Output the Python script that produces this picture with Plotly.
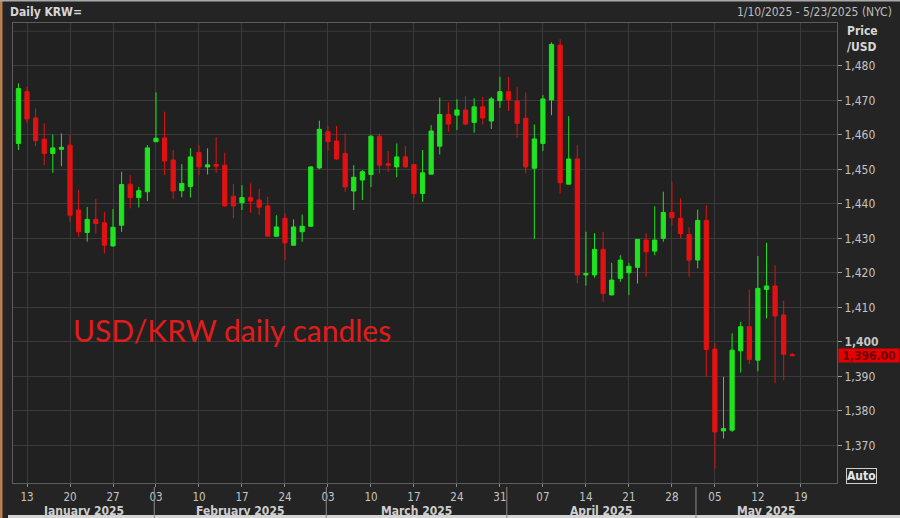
import pandas as pd
import plotly.graph_objects as go

# daily USD/KRW candles, 10 Jan - 16 May 2025 (weekdays)
dates = pd.bdate_range("2025-01-10", "2025-05-16")

opens = [1457.5, 1472.5, 1464.9, 1458.7, 1454.6, 1455.8, 1457.0, 1438.2, 1431.7, 1435.5,
         1434.5, 1427.8, 1433.8, 1445.7, 1441.8, 1443.5, 1458.0, 1459.1, 1452.7, 1443.8,
         1445.0, 1454.9, 1450.7, 1451.4, 1451.2, 1442.2, 1440.3, 1441.8, 1441.1, 1439.4,
         1430.6, 1435.8, 1428.0, 1431.9, 1433.5, 1450.4, 1460.9, 1458.2, 1454.6, 1443.7,
         1446.9, 1448.5, 1459.6, 1451.6, 1450.7, 1453.6, 1451.4, 1443.0, 1448.6, 1456.7,
         1465.9, 1465.7, 1467.2, 1463.6, 1468.1, 1464.0, 1469.9, 1472.5, 1469.8, 1464.8,
         1450.3, 1457.5, 1470.1, 1486.0, 1445.7, 1453.0, 1419.4, 1419.4, 1426.8, 1413.6,
         1418.4, 1420.0, 1421.6, 1429.5, 1426.3, 1430.0, 1437.5, 1435.8, 1431.1, 1423.7,
         1435.2, 1397.9, 1374.2, 1374.4, 1397.4, 1404.4, 1394.7, 1415.2, 1416.2, 1407.8,
         1396.3]
highs = [1474.9, 1473.9, 1467.7, 1463.3, 1460.1, 1460.4, 1459.9, 1444.0, 1439.1, 1441.4,
         1437.7, 1438.5, 1449.3, 1448.3, 1444.9, 1457.0, 1472.3, 1466.7, 1455.6, 1451.5,
         1456.1, 1457.0, 1456.1, 1459.3, 1454.8, 1445.7, 1445.4, 1445.9, 1444.4, 1442.0,
         1436.7, 1437.3, 1435.5, 1436.9, 1450.9, 1464.1, 1462.6, 1462.6, 1460.4, 1451.2,
         1449.8, 1459.9, 1460.4, 1455.3, 1457.5, 1456.7, 1451.5, 1455.6, 1462.8, 1470.8,
         1469.4, 1470.3, 1471.2, 1470.6, 1471.0, 1471.0, 1476.8, 1476.8, 1473.9, 1472.3,
         1463.0, 1471.5, 1486.8, 1487.7, 1465.4, 1457.0, 1431.9, 1431.5, 1431.9, 1422.9,
         1425.1, 1422.9, 1429.8, 1431.5, 1439.3, 1443.5, 1446.4, 1441.6, 1433.3, 1438.3,
         1439.6, 1399.6, 1389.9, 1402.5, 1405.8, 1415.1, 1424.9, 1428.7, 1422.2, 1411.9,
         1396.8]
lows = [1455.6, 1463.3, 1456.7, 1451.2, 1449.0, 1450.9, 1434.8, 1430.4, 1429.0, 1431.4,
        1425.6, 1427.6, 1431.9, 1438.7, 1438.9, 1440.8, 1458.0, 1448.3, 1441.3, 1441.9,
        1441.8, 1448.3, 1448.5, 1449.0, 1439.2, 1435.8, 1438.2, 1437.4, 1436.7, 1430.4,
        1430.4, 1423.7, 1427.8, 1429.0, 1433.3, 1450.0, 1455.3, 1452.8, 1443.5, 1438.2,
        1441.1, 1444.9, 1448.8, 1449.3, 1447.7, 1450.5, 1441.6, 1440.6, 1448.5, 1454.3,
        1460.9, 1461.4, 1462.8, 1460.6, 1463.0, 1461.7, 1467.8, 1466.9, 1459.1, 1448.8,
        1429.8, 1455.3, 1465.7, 1443.0, 1445.6, 1416.9, 1416.3, 1418.6, 1411.6, 1413.5,
        1417.4, 1413.6, 1416.9, 1418.9, 1425.1, 1429.0, 1433.8, 1430.0, 1418.9, 1421.3,
        1389.9, 1363.3, 1372.0, 1373.9, 1391.1, 1393.6, 1391.5, 1406.8, 1388.0, 1388.9,
        1396.0]
closes = [1473.4, 1464.6, 1458.3, 1454.6, 1456.2, 1456.4, 1436.7, 1431.9, 1435.5, 1434.3,
          1428.0, 1433.2, 1445.6, 1441.8, 1443.8, 1456.2, 1459.0, 1452.4, 1443.7, 1445.9,
          1453.6, 1450.7, 1451.3, 1450.9, 1439.4, 1439.4, 1441.8, 1440.8, 1439.0, 1430.6,
          1433.3, 1428.7, 1433.3, 1433.5, 1450.7, 1461.6, 1458.0, 1453.0, 1444.9, 1447.7,
          1449.3, 1459.6, 1451.2, 1451.2, 1453.6, 1450.7, 1443.0, 1449.0, 1461.1, 1465.9,
          1463.1, 1467.2, 1463.1, 1468.1, 1464.9, 1470.4, 1472.5, 1470.1, 1463.3, 1450.7,
          1458.8, 1470.4, 1486.2, 1446.1, 1453.0, 1419.4, 1419.8, 1426.8, 1414.0, 1417.9,
          1423.7, 1421.9, 1429.7, 1426.1, 1429.5, 1437.5, 1436.0, 1431.4, 1423.7, 1435.2,
          1397.8, 1373.9, 1374.9, 1397.6, 1404.4, 1394.9, 1415.5, 1416.2, 1407.5, 1396.4,
          1396.0]

y_ticks = [1370, 1380, 1390, 1400, 1410, 1420, 1430, 1440, 1450, 1460, 1470, 1480]
week_labels = ["13", "20", "27", "03", "10", "17", "24", "03", "10", "17",
               "24", "31", "07", "14", "21", "28", "05", "12", "19"]
months = ["January 2025", "February 2025", "March 2025", "April 2025", "May 2025"]
last_price = 1396.00

GREEN = "#1fe41f"
RED = "#e31212"
TXT = "#c4c4c4"
FONT = "Liberation Sans Narrow, DejaVu Sans Condensed, Liberation Sans, sans-serif"

idx = list(range(len(dates)))
# axis runs to 23 May (the quote window), data stops 16 May
full_days = pd.bdate_range("2025-01-10", "2025-05-23")
week_pos = [i for i, d in enumerate(full_days) if d.weekday() == 0]
month_starts = [i for i in range(1, len(full_days)) if full_days[i].month != full_days[i - 1].month]
x_lo, x_hi = -0.63, len(full_days) - 1 + 0.2

# plot area in pixels: x 13..837, y 23..483
def px(x):
    return (x - 13) / 824.0

def py(y):
    return (483 - y) / 460.0

fig = go.Figure(go.Candlestick(
    x=idx, open=opens, high=highs, low=lows, close=closes,
    increasing=dict(line=dict(color=GREEN, width=1), fillcolor=GREEN),
    decreasing=dict(line=dict(color=RED, width=1), fillcolor=RED),
    whiskerwidth=0, hoverinfo="skip", showlegend=False,
))

fig.update_layout(
    width=900, height=518,
    margin=dict(l=13, r=63, t=23, b=35),
    paper_bgcolor="#242424", plot_bgcolor="#212121",
    font=dict(family=FONT, color=TXT, size=12),
    boxgap=0.3,
    xaxis=dict(
        range=[x_lo, x_hi], rangeslider=dict(visible=False),
        tickvals=week_pos, ticktext=week_labels,
        showgrid=True, gridcolor="#3a3a3a", gridwidth=1,
        ticks="outside", ticklen=3, tickcolor="#8a8a8a",
        tickfont=dict(size=11.5, color=TXT),
        showline=True, linecolor="#5c5c5c", mirror=True, zeroline=False,
    ),
    yaxis=dict(
        side="right", range=[1359.1, 1492.4],
        tickvals=y_ticks,
        ticktext=[("<b>%s</b>" % f"{v:,}") if v == 1400 else f"{v:,}" for v in y_ticks],
        showgrid=True, gridcolor="#3a3a3a", gridwidth=1,
        ticks="outside", ticklen=4, tickcolor="#9a9a9a",
        tickfont=dict(size=12, color=TXT),
        showline=True, linecolor="#5c5c5c", mirror=True, zeroline=False,
    ),
)

shapes = [
    # extra grid line at 1,490
    dict(type="line", xref="paper", yref="y", x0=0, x1=1, y0=1490, y1=1490,
         line=dict(color="#3a3a3a", width=1), layer="below"),
    # window borders
    dict(type="rect", xref="paper", yref="paper", x0=px(0), x1=px(2.5), y0=py(518), y1=py(0),
         fillcolor="#b9804f", line=dict(width=0)),
    dict(type="rect", xref="paper", yref="paper", x0=px(0), x1=px(900), y0=py(1.5), y1=py(0),
         fillcolor="#a9a9a9", line=dict(width=0)),
    dict(type="rect", xref="paper", yref="paper", x0=px(8), x1=px(900), y0=py(518), y1=py(515),
         fillcolor="#d4d4d4", line=dict(width=0)),
]
for m in month_starts:
    shapes.append(dict(type="line", xref="x", yref="paper", x0=m - 0.2, x1=m - 0.2,
                       y0=py(487), y1=py(518), line=dict(color="#8a8a8a", width=1)))

annotations = [
    dict(text="<b>Daily KRW=</b>", xref="paper", yref="paper", x=px(8), y=py(12),
         xanchor="left", yanchor="middle", showarrow=False, font=dict(size=12, color="#d6d6d6")),
    dict(text="1/10/2025 - 5/23/2025 (NYC)", xref="paper", yref="paper", x=px(894), y=py(12),
         xanchor="right", yanchor="middle", showarrow=False, font=dict(size=12, color="#bdbdbd")),
    dict(text="<b>Price</b>", xref="paper", yref="paper", x=px(845), y=py(31),
         xanchor="left", yanchor="middle", showarrow=False, font=dict(size=12, color="#d6d6d6")),
    dict(text="<b>/USD</b>", xref="paper", yref="paper", x=px(845), y=py(47),
         xanchor="left", yanchor="middle", showarrow=False, font=dict(size=12, color="#d6d6d6")),
    dict(text="USD/KRW daily candles", xref="paper", yref="paper", x=px(71), y=py(330),
         xanchor="left", yanchor="middle", showarrow=False,
         font=dict(family="Lato, Open Sans, sans-serif", size=30, color="#e01c1c")),
    dict(text="<b>%s</b>" % f"{last_price:,.2f}", xref="paper", yref="y", x=1, y=last_price,
         xanchor="left", yanchor="middle", showarrow=False, xshift=1,
         bgcolor="#e60000", borderpad=0, width=60, height=13,
         font=dict(size=12, color="#6e0000")),
    dict(text="<b>Auto</b>", xref="paper", yref="paper", x=px(846), y=py(476),
         xanchor="left", yanchor="middle", showarrow=False,
         bordercolor="#d0d0d0", borderwidth=1, borderpad=0,
         font=dict(size=12, color="#e6e6e6")),
]
# month names centred under each month segment
bounds = [x_lo] + [m - 0.2 for m in month_starts] + [x_hi]
for name, a, b in zip(months, bounds[:-1], bounds[1:]):
    annotations.append(dict(text="<b>%s</b>" % name, xref="x", yref="paper", x=(a + b) / 2,
                            y=py(511), xanchor="center", yanchor="middle", showarrow=False,
                            font=dict(size=12, color="#cfcfcf")))

fig.update_layout(shapes=shapes, annotations=annotations)
# drop the default page margin so the 900x518 figure sits at the window origin
fig.write_html("out.html", config={"displayModeBar": False},
               post_script="document.body.style.margin='0';")
